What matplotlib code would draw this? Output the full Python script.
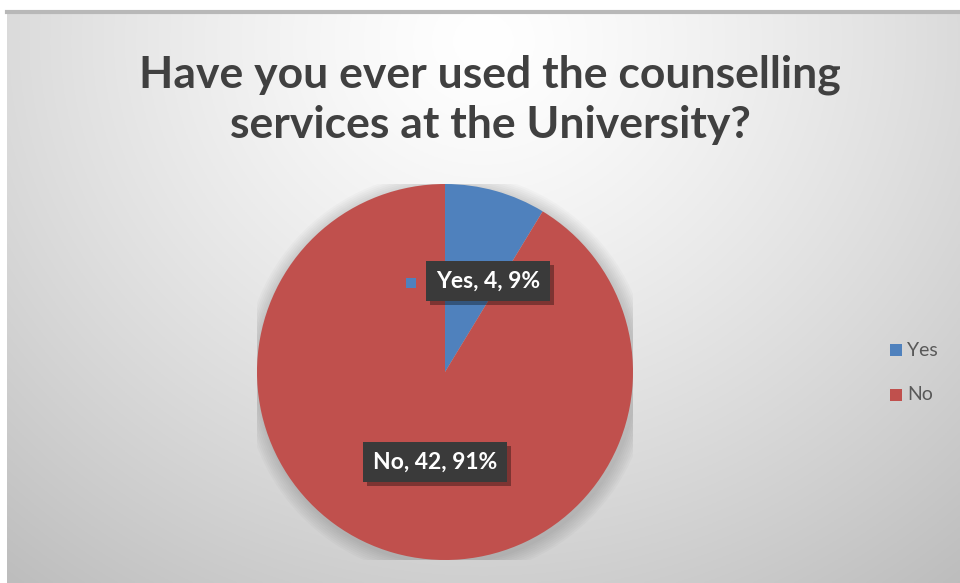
import numpy as np
import matplotlib
matplotlib.use("Agg")
import matplotlib.pyplot as plt
from matplotlib.patches import Rectangle, Circle
import matplotlib.patheffects as pe

categories = ["Yes", "No"]
values = [4, 42]
colors = ["#4F81BD", "#C0504D"]
title = "Have you ever used the counselling\nservices at the University?"

W, H = 960, 583
fig = plt.figure(figsize=(W / 100, H / 100), dpi=100)
fig.patch.set_facecolor("white")

# background gradient panel
bx0, by0 = 7, 12
bg = fig.add_axes([bx0 / W, 0, 1 - bx0 / W, 1 - by0 / H])
bg.set_axis_off()
ny, nx = 300, 500
yy, xx = np.mgrid[0:1:ny * 1j, 0:1:nx * 1j]
r = np.sqrt(((xx - 0.5) / 0.75) ** 2 + ((yy - 0.05) / 1.15) ** 2)
val = 1.0 - 0.24 * np.clip(r, 0, 1.2) ** 1.3
img = np.dstack([val, val, val])
bg.imshow(img, extent=[0, 1, 0, 1], aspect="auto", origin="upper")
bg.plot([0, 1], [1, 1], color="#b8b8b8", lw=3, transform=bg.transAxes, clip_on=False)
bg.set_xlim(0, 1)
bg.set_ylim(0, 1)

# title
fig.text(490 / W, 1 - 100 / H, title, ha="center", va="center",
         fontsize=32, fontweight="bold", color="#404040",
         family=["Lato", "DejaVu Sans"], linespacing=1.3)

# pie
cx, cy, R = 445, 372, 188
ax = fig.add_axes([(cx - R) / W, (H - cy - R) / H, 2 * R / W, 2 * R / H])
for i in range(8):
    ax.add_patch(Circle((0.01, -0.015), 1.0 + 0.01 * (8 - i), color="black",
                        alpha=0.02, lw=0, zorder=0))
wedges, _ = ax.pie(values, colors=colors, startangle=90, counterclock=False,
                   radius=1.0, wedgeprops=dict(linewidth=0))
ax.set_xlim(-1, 1)
ax.set_ylim(-1, 1)
ax.set_aspect("equal")
ax.set_axis_off()

total = sum(values)
label_pos = [(488, 281), (435, 462)]
for i, (cat, v) in enumerate(zip(categories, values)):
    pct = round(100 * v / total)
    txt = f"{cat}, {v}, {pct}%"
    px, py = label_pos[i]
    t = fig.text(px / W, 1 - py / H, txt, ha="center", va="center",
                 fontsize=16.5, fontweight="bold", color="white",
                 family=["Lato", "DejaVu Sans"],
                 bbox=dict(boxstyle="square,pad=0.42", fc="#3a3a3a", ec="none"))
    t.get_bbox_patch().set_path_effects(
        [pe.SimplePatchShadow(offset=(3, -3), shadow_rgbFace="black", alpha=0.35),
         pe.Normal()])

# legend key beside Yes label
fig.patches.append(Rectangle((406 / W, 1 - 288 / H), 10 / W, 10 / H,
                             transform=fig.transFigure, fc=colors[0], ec="none"))

# legend
leg_y = [350, 395]
for i, cat in enumerate(categories):
    y = leg_y[i]
    fig.patches.append(Rectangle((890 / W, 1 - (y + 6) / H), 12 / W, 12 / H,
                                 transform=fig.transFigure, fc=colors[i], ec="none"))
    fig.text(907 / W, 1 - y / H, cat, ha="left", va="center", fontsize=14,
             color="#595959", family=["Lato", "DejaVu Sans"])

fig.savefig("out.png", dpi=100)
